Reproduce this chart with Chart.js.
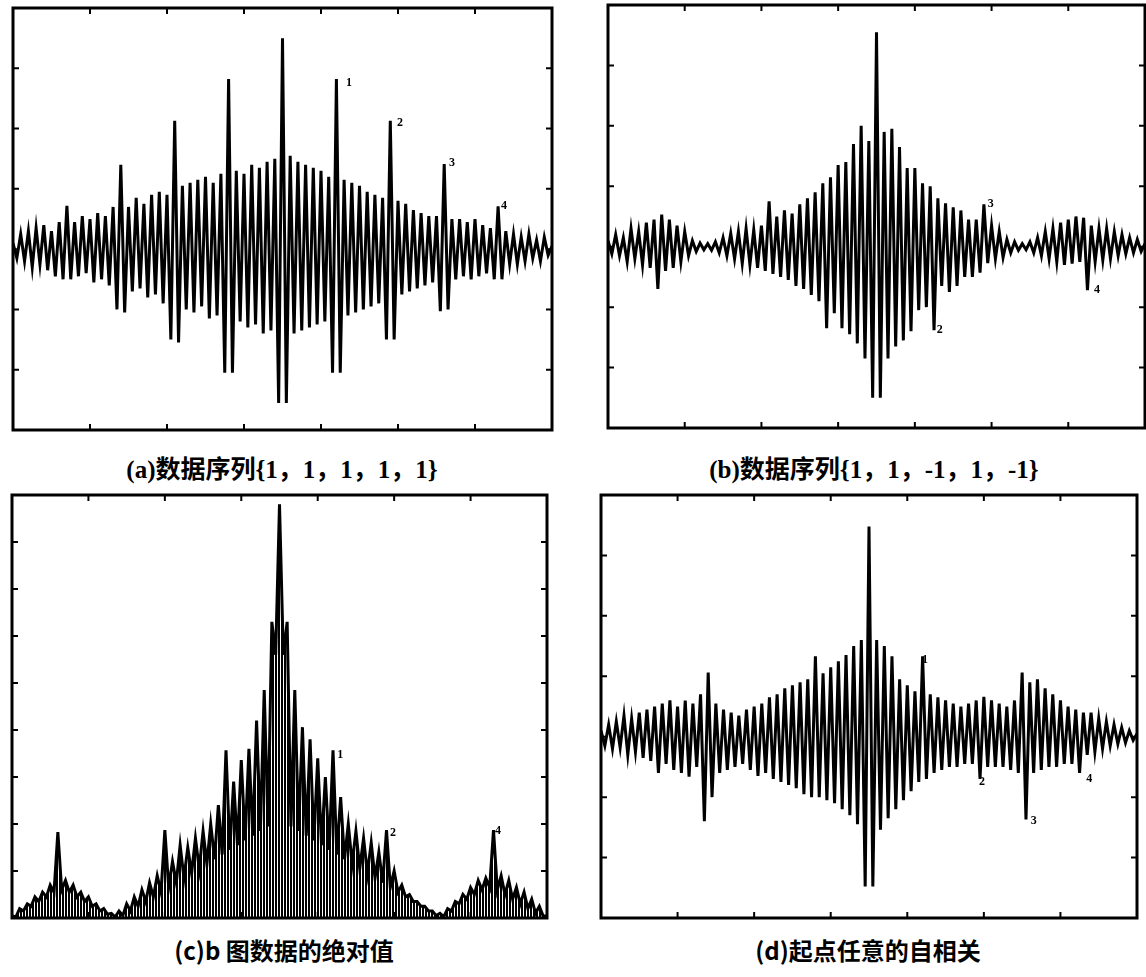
<!DOCTYPE html>
<html>
<head>
<meta charset="utf-8">
<script src="https://cdn.jsdelivr.net/npm/chart.js@4.4.1/dist/chart.umd.min.js"></script>
<style>
  body { margin: 0; background: #fff; width: 1146px; height: 977px; position: relative; overflow: hidden; }
  canvas { position: absolute; }
  .cap { position: absolute; font-weight: bold; white-space: nowrap; transform: translateX(-50%); color: #000; }
  .serif { font-family: "Liberation Serif", "Noto Sans CJK SC", serif; font-size: 25px; }
  .sans { font-family: "Noto Sans CJK SC", sans-serif; font-size: 24px; }
</style>
</head>
<body>
<canvas id="chartA"></canvas>
<canvas id="chartB"></canvas>
<canvas id="chartC"></canvas>
<canvas id="chartD"></canvas>
<div class="cap serif" style="left:282px; top:449px;">(a)数据序列{1，1，1，1，1}</div>
<div class="cap serif" style="left:874px; top:449px;">(b)数据序列{1，1，-1，1，-1}</div>
<div class="cap sans" style="left:284px; top:932px;">(c)b 图数据的绝对值</div>
<div class="cap sans" style="left:868px; top:932px;">(d)起点任意的自相关</div>
<script>
// correlation samples, one value per lag (0..140)
const seqA = [
  0.10, -0.15, 0.25, -0.20, 0.30, -0.30, 0.35, -0.25, 0.40, -0.35,
  0.30, -0.45, 0.45, -0.50, 0.72, -0.50, 0.45, -0.45, 0.55, -0.40,
  0.50, -0.55, 0.60, -0.50, 0.55, -0.60, 0.70, -1.00, 1.40, -1.05,
  0.70, -0.70, 0.85, -0.65, 0.75, -0.80, 0.90, -0.75, 0.95, -0.90,
  0.90, -1.50, 2.13, -1.55, 1.05, -1.00, 1.10, -1.05, 1.15, -0.95,
  1.20, -1.15, 1.10, -1.10, 1.25, -2.05, 2.82, -2.05, 1.30, -1.20,
  1.25, -1.30, 1.40, -1.25, 1.35, -1.40, 1.45, -1.35, 1.50, -2.55,
  3.50, -2.55, 1.55, -1.40, 1.45, -1.35, 1.40, -1.30, 1.35, -1.25,
  1.30, -1.20, 1.20, -2.05, 2.82, -2.05, 1.15, -1.10, 1.10, -1.05,
  1.05, -1.00, 0.95, -0.95, 0.90, -0.90, 0.85, -1.50, 2.13, -1.50,
  0.80, -0.75, 0.75, -0.70, 0.65, -0.65, 0.60, -0.60, 0.55, -0.55,
  0.55, -1.03, 1.41, -1.00, 0.50, -0.50, 0.50, -0.45, 0.45, -0.50,
  0.50, -0.45, 0.40, -0.40, 0.35, -0.50, 0.71, -0.50, 0.30, -0.25,
  0.25, -0.25, 0.20, -0.20, 0.25, -0.15, 0.15, -0.20, 0.20, -0.10,
  0.05
];
const seqB = [
  0.10, -0.12, 0.20, -0.15, 0.15, -0.25, 0.30, -0.20, 0.25, -0.30,
  0.40, -0.35, 0.45, -0.70, 0.53, -0.40, 0.45, -0.35, 0.35, -0.25,
  0.25, -0.15, 0.10, -0.08, 0.06, -0.05, 0.05, -0.06, 0.08, -0.10,
  0.15, -0.15, 0.22, -0.20, 0.25, -0.28, 0.30, -0.30, 0.28, -0.35,
  0.35, -0.40, 0.75, -0.45, 0.50, -0.50, 0.60, -0.55, 0.55, -0.65,
  0.70, -0.70, 0.80, -0.80, 0.90, -0.90, 1.05, -1.35, 1.15, -1.10,
  1.35, -1.35, 1.40, -1.45, 1.70, -1.60, 2.00, -1.85, 1.75, -2.50,
  3.55, -2.50, 1.90, -1.85, 1.95, -1.65, 1.65, -1.55, 1.30, -1.40,
  1.30, -1.05, 1.05, -1.00, 1.00, -1.38, 0.80, -0.65, 0.72, -0.75,
  0.65, -0.65, 0.60, -0.50, 0.45, -0.50, 0.45, -0.43, 0.70, -0.27,
  0.35, -0.20, 0.25, -0.18, 0.12, -0.10, 0.08, -0.06, 0.05, -0.05,
  0.08, -0.10, 0.15, -0.15, 0.25, -0.20, 0.30, -0.25, 0.40, -0.30,
  0.45, -0.28, 0.50, -0.25, 0.48, -0.72, 0.35, -0.25, 0.30, -0.22,
  0.30, -0.20, 0.25, -0.15, 0.20, -0.12, 0.15, -0.10, 0.12, -0.08,
  0.05
];
const seqC = [
  0.05, 0.02, 0.20, 0.15, 0.30, 0.25, 0.45, 0.35, 0.55, 0.45,
  0.70, 0.55, 1.83, 0.60, 0.80, 0.55, 0.70, 0.45, 0.55, 0.35,
  0.45, 0.25, 0.30, 0.15, 0.20, 0.08, 0.10, 0.02, 0.15, 0.05,
  0.30, 0.15, 0.45, 0.25, 0.60, 0.35, 0.75, 0.45, 0.90, 0.55,
  1.87, 0.65, 1.20, 0.75, 1.55, 0.85, 1.50, 0.95, 1.70, 1.05,
  1.85, 1.15, 2.00, 1.25, 2.40, 1.35, 3.57, 1.45, 2.90, 1.55,
  3.36, 1.65, 3.60, 1.75, 4.20, 1.85, 4.85, 1.95, 6.30, 5.60,
  8.80, 5.60, 6.30, 1.95, 4.85, 1.85, 4.06, 1.75, 3.80, 1.65,
  3.40, 1.55, 3.00, 1.45, 3.57, 1.35, 2.57, 1.25, 2.00, 1.15,
  1.85, 1.05, 1.70, 0.95, 1.60, 0.85, 1.40, 0.75, 1.87, 0.65,
  1.00, 0.55, 0.70, 0.45, 0.50, 0.35, 0.35, 0.25, 0.25, 0.15,
  0.15, 0.05, 0.10, 0.03, 0.20, 0.15, 0.35, 0.30, 0.50, 0.40,
  0.65, 0.50, 0.80, 0.60, 0.85, 0.65, 1.87, 0.60, 0.90, 0.50,
  0.80, 0.40, 0.65, 0.30, 0.55, 0.20, 0.40, 0.10, 0.25, 0.04,
  0.05
];
const seqD = [
  0.10, -0.15, 0.20, -0.20, 0.25, -0.18, 0.35, -0.30, 0.30, -0.25,
  0.40, -0.35, 0.45, -0.40, 0.50, -0.60, 0.55, -0.45, 0.60, -0.55,
  0.50, -0.60, 0.60, -0.66, 0.55, -0.50, 0.70, -1.40, 1.06, -1.00,
  0.55, -0.60, 0.45, -0.55, 0.40, -0.50, 0.35, -0.45, 0.45, -0.55,
  0.50, -0.65, 0.55, -0.60, 0.65, -0.70, 0.70, -0.75, 0.80, -0.80,
  0.85, -0.85, 0.90, -0.95, 0.95, -1.00, 1.33, -1.00, 1.05, -1.05,
  1.15, -1.10, 1.25, -1.20, 1.35, -1.30, 1.50, -1.45, 1.60, -2.48,
  3.48, -2.48, 1.60, -1.54, 1.50, -1.35, 1.33, -1.20, 0.95, -1.05,
  0.85, -0.90, 0.75, -0.75, 1.33, -0.70, 0.70, -0.60, 0.65, -0.55,
  0.60, -0.50, 0.55, -0.50, 0.50, -0.45, 0.55, -0.45, 0.60, -0.70,
  0.66, -0.50, 0.60, -0.50, 0.55, -0.50, 0.50, -0.55, 0.60, -0.60,
  1.06, -1.37, 0.90, -0.60, 0.95, -0.55, 0.80, -0.50, 0.70, -0.50,
  0.60, -0.45, 0.50, -0.45, 0.45, -0.60, 0.40, -0.30, 0.40, -0.25,
  0.30, -0.20, 0.25, -0.15, 0.20, -0.12, 0.15, -0.10, 0.10, -0.06,
  0.05
];

// peak numbers written next to the side lobes (lag, value, text)
const marksA = [[87.3, 2.76, '1'], [100.5, 2.1, '2'], [114, 1.43, '3'], [127.5, 0.72, '4']];
const marksB = [[86.5, -1.38, '2'], [99.8, 0.71, '3'], [127.5, -0.71, '4']];
const marksC = [[85.9, 3.47, '1'], [99.7, 1.8, '2'], [127.2, 1.85, '4']];
const marksD = [[84.6, 1.27, '1'], [99.5, -0.75, '2'], [113, -1.4, '3'], [127.5, -0.7, '4']];

const xTicks = [0, 20, 40, 60, 80, 100, 120, 140];
const yTicksSigned = [-3, -2, -1, 0, 1, 2, 3, 4];
const yTicksAbs = [0, 1, 2, 3, 4, 5, 6, 7, 8, 9];

const PAD = 4;

const framePlugin = {
    id: 'frame',
    afterDatasetsDraw(chart, args, opts) {
        const { ctx, chartArea: a, scales } = chart;
        const x = scales.x, y = scales.y;
        ctx.save();
        ctx.strokeStyle = '#000';
        ctx.fillStyle = '#000';
        ctx.lineWidth = 2;
        ctx.beginPath();
        opts.xTicks.forEach(v => {
            const px = x.getPixelForValue(v);
            ctx.moveTo(px, a.top); ctx.lineTo(px, a.top + 6);
            ctx.moveTo(px, a.bottom); ctx.lineTo(px, a.bottom - 6);
        });
        opts.yTicks.forEach(v => {
            const py = y.getPixelForValue(v);
            ctx.moveTo(a.left, py); ctx.lineTo(a.left + 6, py);
            ctx.moveTo(a.right, py); ctx.lineTo(a.right - 6, py);
        });
        ctx.stroke();
        ctx.lineWidth = 3;
        ctx.strokeRect(a.left, a.top, a.right - a.left, a.bottom - a.top);

        ctx.font = 'bold 12px "Liberation Serif"';
        ctx.textAlign = 'center';
        ctx.textBaseline = 'middle';
        opts.marks.forEach(m => {
            ctx.fillText(m[2], x.getPixelForValue(m[0]), y.getPixelForValue(m[1]));
        });
        ctx.restore();
    }
};

// fine vertical hatching, like the scanned fill under the |b| hills
function hatchPattern() {
    const c = document.createElement('canvas');
    c.width = 3; c.height = 3;
    const g = c.getContext('2d');
    g.fillStyle = '#000';
    g.fillRect(0, 0, 2, 3);
    return g.createPattern(c, 'repeat');
}

function makePanel(id, box, values, yMin, yMax, yTicks, marks, fill) {
    const canvas = document.getElementById(id);
    canvas.width = box.w + 2 * PAD;
    canvas.height = box.h + 2 * PAD;
    canvas.style.left = (box.left - PAD) + 'px';
    canvas.style.top = (box.top - PAD) + 'px';

    return new Chart(canvas, {
        type: 'line',
        data: {
            datasets: [{
                data: values.map((v, i) => ({ x: i, y: v })),
                borderColor: '#000',
                borderWidth: 3,
                pointRadius: 0,
                tension: 0,
                fill: fill ? 'origin' : false,
                backgroundColor: fill ? hatchPattern() : 'transparent'
            }]
        },
        options: {
            responsive: false,
            animation: false,
            layout: { padding: PAD },
            scales: {
                x: { type: 'linear', min: 0, max: 140, display: false },
                y: { type: 'linear', min: yMin, max: yMax, display: false }
            },
            plugins: {
                legend: { display: false },
                tooltip: { enabled: false },
                frame: { xTicks: xTicks, yTicks: yTicks, marks: marks }
            }
        },
        plugins: [framePlugin]
    });
}

makePanel('chartA', { left: 13, top: 8, w: 539, h: 422 }, seqA, -3, 4, yTicksSigned, marksA, false);
makePanel('chartB', { left: 608, top: 5, w: 537, h: 423 }, seqB, -3, 4, yTicksSigned, marksB, false);
makePanel('chartC', { left: 12, top: 495, w: 535, h: 423 }, seqC, 0, 9, yTicksAbs, marksC, true);
makePanel('chartD', { left: 601, top: 495, w: 536, h: 423 }, seqD, -3, 4, yTicksSigned, marksD, false);
</script>
</body>
</html>
